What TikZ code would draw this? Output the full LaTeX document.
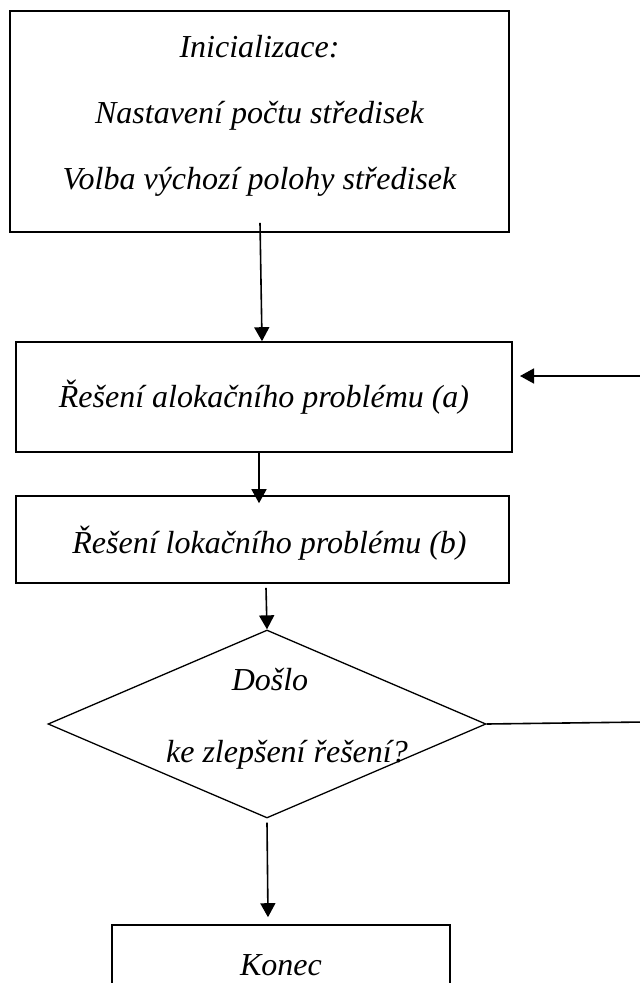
\documentclass[tikz,border=0pt]{standalone}
\usepackage{fontspec}
\setmainfont{Liberation Serif}
\usetikzlibrary{shapes.geometric,arrows.meta}

\begin{document}
\begin{tikzpicture}[x=1pt,y=-1pt,
    font=\fontsize{32}{38}\selectfont\itshape,
    box/.style={draw,line width=1.6pt,rectangle,inner sep=0pt,align=center},
    decision/.style={draw,line width=1.3pt,diamond,inner sep=0pt},
    flow/.style={line width=1.6pt,-{Triangle[length=14pt,width=15pt]}}]
    \useasboundingbox (0,0) rectangle (640,983);
    % boxes of the loop
    \node[box,minimum width=499pt,minimum height=221pt,text depth=18pt] (init) at (259.5,121.5)
        {Inicializace:\\[28pt]Nastavení počtu středisek\\[28pt]Volba výchozí polohy středisek};
    \node[box,minimum width=496pt,minimum height=110pt] (alloc) at (264,397) {Řešení alokačního problému (a)};
    \node[box,minimum width=493pt,minimum height=87pt,text depth=0pt] (loc) at (262.5,539.5) {\hspace*{14pt}Řešení lokačního problému (b)};
    \node[decision,minimum width=438pt,minimum height=188pt] (dec) at (267,724) {};
    \node[align=center,inner sep=0pt] (dectext) at (287,719) {\hspace*{-34pt}Došlo\\[34pt]ke zlepšení řešení?};
    \node[box,minimum width=338pt,minimum height=80pt] (konec) at (281,965) {Konec};
    \coordinate (loopin) at (520,376);
    % connectors
    \draw[flow] ([xshift=0.5pt,yshift=10pt]init.south) -- ([xshift=-2pt]alloc.north);
    \draw[flow] ([xshift=-5pt]alloc.south) -- ([xshift=-3.5pt,yshift=-8pt]loc.north);
    \draw[flow] ([xshift=3.5pt,yshift=-4pt]loc.south) -- (dec.north);
    \draw[flow] ([yshift=-4pt]dec.south) -- ([xshift=-13pt,yshift=7pt]konec.north);
    \draw[flow] (dec.east) -- (644,722) -- (644,376) -- (loopin);
\end{tikzpicture}
\end{document}
